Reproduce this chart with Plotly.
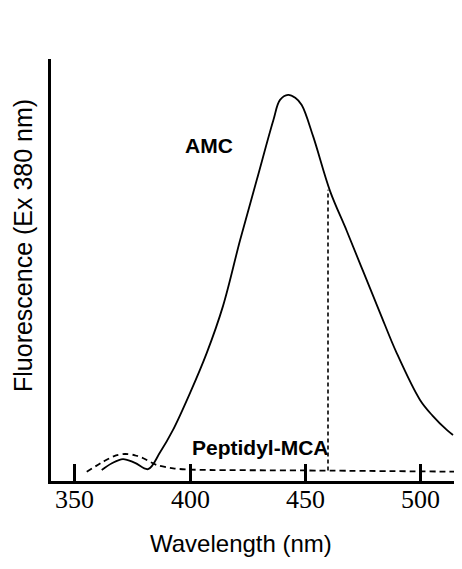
import plotly.graph_objects as go

# AMC emission spectrum (solid)
amc_nm = [361.6, 366.0, 370.8, 376.0, 381.7, 386.9, 392.5, 400.0, 407.1, 414.2, 421.6, 428.8,
          436.0, 438.9, 442.4, 445.5, 448.3, 453.3, 460.6, 467.8, 475.0, 482.3, 489.5, 499.6,
          505.0, 511.2, 513.9]
amc_val = [2.6, 4.2, 5.2, 4.3, 2.8, 6.8, 12.1, 21.0, 30.3, 41.5, 57.1, 71.3,
           85.5, 90.3, 91.5, 90.8, 89.1, 81.6, 68.7, 59.3, 49.6, 39.8, 30.3, 19.2,
           15.5, 12.1, 10.9]

# Peptidyl-MCA emission spectrum (dashed)
mca_nm = [355.1, 362.3, 367.0, 371.7, 376.0, 379.6, 385.4, 392.6, 400.0, 450.0, 517.8]
mca_val = [2.2, 4.6, 5.9, 6.4, 6.1, 5.4, 3.8, 3.0, 2.7, 2.5, 2.2]

# dotted marker line at 460 nm
mark_nm = [459.7, 459.7]
mark_val = [2.5, 69.0]

tick_vals = [350, 400, 450, 500]

fig = go.Figure()

fig.add_trace(go.Scatter(
    x=amc_nm, y=amc_val, mode="lines",
    line=dict(color="black", width=1.8, shape="spline", smoothing=1.0),
))
fig.add_trace(go.Scatter(
    x=mca_nm, y=mca_val, mode="lines",
    line=dict(color="black", width=1.8, dash="6px,4px", shape="spline", smoothing=0.8),
))
fig.add_trace(go.Scatter(
    x=mark_nm, y=mark_val, mode="lines",
    line=dict(color="black", width=1.6, dash="4px,3px"),
))

fig.add_annotation(x=407.9, y=79.6, text="<b>AMC</b>", showarrow=False,
                   font=dict(family="Liberation Sans, Arial", size=21, color="black"))
fig.add_annotation(x=430.6, y=8.0, text="<b>Peptidyl-MCA</b>", showarrow=False,
                   font=dict(family="Liberation Sans, Arial", size=21, color="black"))

# tick labels sit closer to the axis than plotly puts them
for v in tick_vals:
    fig.add_annotation(x=v, y=-0.005, xref="x", yref="paper", text=str(v),
                       showarrow=False, xanchor="center", yanchor="top",
                       font=dict(family="Liberation Serif, Times New Roman", size=26, color="black"))

# axis titles placed as annotations to match the original offsets
fig.add_annotation(x=0.4635, y=-0.149, xref="paper", yref="paper", text="Wavelength (nm)",
                   showarrow=False, xanchor="center", yanchor="middle",
                   font=dict(family="Liberation Sans, Arial", size=24, color="black"))
fig.add_annotation(x=-0.068, y=0.557, xref="paper", yref="paper", text="Fluorescence (Ex 380 nm)",
                   showarrow=False, xanchor="center", yanchor="middle", textangle=-90,
                   font=dict(family="Liberation Sans, Arial", size=25, color="black"))

# page body has an 8px margin, so the figure is shifted to compensate
fig.update_layout(
    width=454,
    height=561,
    margin=dict(l=43, r=0, t=51, b=88),
    paper_bgcolor="white",
    plot_bgcolor="white",
    showlegend=False,
    xaxis=dict(
        range=[339.6, 517.8],
        showgrid=False,
        zeroline=False,
        showline=True,
        linecolor="black",
        linewidth=3,
        ticks="inside",
        ticklen=17,
        tickwidth=2.5,
        tickcolor="black",
        tickvals=tick_vals,
        showticklabels=False,
    ),
    yaxis=dict(
        range=[0, 100],
        showgrid=False,
        zeroline=False,
        showline=True,
        linecolor="black",
        linewidth=3,
        showticklabels=False,
        ticks="",
    ),
)

fig.write_html("out.html")
